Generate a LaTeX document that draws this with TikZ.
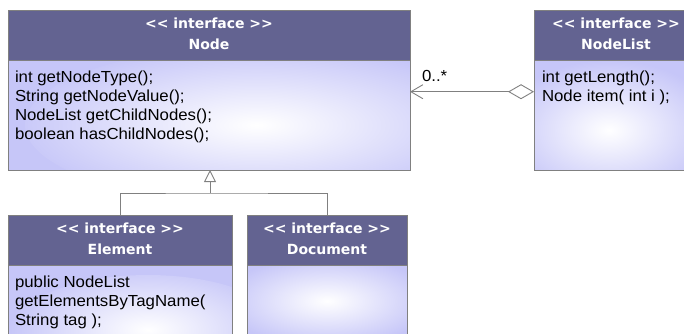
\documentclass[tikz,border=0pt]{standalone}
\usepackage{fontspec}
\setmainfont{Liberation Sans}[FakeStretch=1.05]
\newfontfamily\hdfont{DejaVu Sans}
\usetikzlibrary{arrows.meta,calc}
\definecolor{hdr}{RGB}{99,99,145}
\definecolor{lav}{RGB}{198,198,248}
\definecolor{edge}{RGB}{128,128,128}

\begin{document}
\begin{tikzpicture}[x=1pt,y=-1pt,
  every node/.style={inner sep=0pt, outer sep=0pt},
  head/.style={draw=edge, line width=0.9pt, fill=hdr, anchor=north west, minimum height=50pt},
  body/.style={draw=edge, line width=0.9pt, fill=lav, anchor=north west},
  glow/.style n args={4}{path picture={\shade[inner color=white,outer color=lav]
      ($(path picture bounding box.north west)+(#1,#2)$) ellipse (#3pt and #4pt);}},
  htext/.style={anchor=base, text=white, font=\hdfont\bfseries\fontsize{14}{17}\selectfont},
  mtext/.style={anchor=base west, font=\fontsize{16}{19}\selectfont},
  link/.style={draw=edge, line width=0.9pt},
]
\useasboundingbox (0,0) rectangle (684,333);

% interface Node
\node[body, minimum width=402pt, minimum height=110pt, glow={257}{65}{240}{80}] (nodeB) at (8,60) {};
\node[head, minimum width=402pt] (nodeH) at (8,10) {};
\node[htext] (nodeS) at ($(nodeH.north)+(0,18)$) {<\kern0pt< interface >\kern0pt>};
\node[htext] (nodeN) at ($(nodeH.north)+(0,39)$) {Node};
\foreach [count=\i] \t in {{int getNodeType();},{String getNodeValue();},{NodeList getChildNodes();},{boolean hasChildNodes();}}
  \node[mtext] (nodeM\i) at (15,63.5+19*\i) {\t};

% interface NodeList
\node[body, minimum width=164pt, minimum height=110pt, glow={75}{70}{110}{70}] (listB) at (534,60) {};
\node[head, minimum width=164pt] (listH) at (534,10) {};
\node[htext] (listS) at ($(listH.north)+(0,18)$) {<\kern0pt< interface >\kern0pt>};
\node[htext] (listN) at ($(listH.north)+(0,39)$) {NodeList};
\foreach [count=\i] \t in {{int getLength();},{Node item( int i );}}
  \node[mtext] (listM\i) at (542,63.5+19*\i) {\t};

% interface Element
\node[body, minimum width=224pt, minimum height=80pt, glow={140}{70}{140}{60}] (elemB) at (8,265) {};
\node[head, minimum width=224pt] (elemH) at (8,215) {};
\node[htext] (elemS) at ($(elemH.north)+(0,18)$) {<\kern0pt< interface >\kern0pt>};
\node[htext] (elemN) at ($(elemH.north)+(0,39)$) {Element};
\foreach [count=\i] \t in {{public NodeList},{getElementsByTagName(},{String tag );}}
  \node[mtext] (elemM\i) at (15,268+19*\i) {\t};

% interface Document
\node[body, minimum width=160pt, minimum height=80pt, glow={80}{36}{105}{45}] (docB) at (247,265) {};
\node[head, minimum width=160pt] (docH) at (247,215) {};
\node[htext] (docS) at ($(docH.north)+(0,18)$) {<\kern0pt< interface >\kern0pt>};
\node[htext] (docN) at ($(docH.north)+(0,39)$) {Document};

% aggregation NodeList -> Node
\coordinate (agg) at (0,91.7);
\draw[link, {Diamond[open,fill=white,length=26pt,width=15pt]}-{Straight Barb[length=12pt,width=14pt]}]
  (listB.west |- agg) -- (nodeB.east |- agg);
\node[mtext] (mult) at (422,81) {0..*};

% generalisation Element, Document -> Node
\coordinate (fork) at (210,193);
\draw[link] (elemH.north) |- (fork) -| (docH.north);
\draw[link, -{Triangle[open,fill=white,length=12pt,width=12pt]}] (fork) -- (nodeB.south -| fork);
\end{tikzpicture}
\end{document}
